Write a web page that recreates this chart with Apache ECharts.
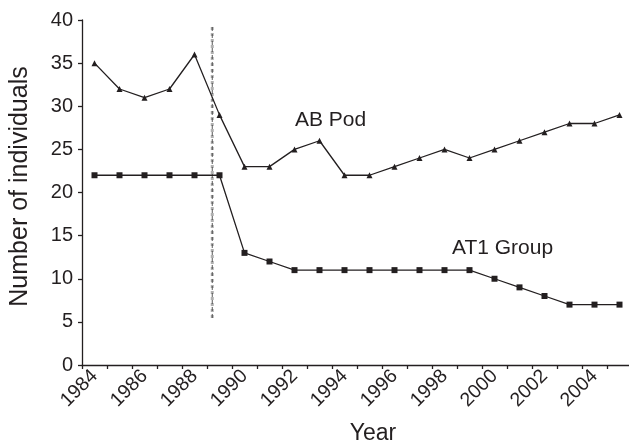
<!DOCTYPE html>
<html>
<head>
<meta charset="utf-8">
<script src="https://cdn.jsdelivr.net/npm/echarts@6/dist/echarts.min.js"></script>
<style>html,body{margin:0;padding:0;background:#fff;}#c{width:629px;height:441px;}</style>
</head>
<body>
<div id="c"></div>
<script>
var years = ['1984','1985','1986','1987','1988','1989','1990','1991','1992','1993','1994','1995','1996','1997','1998','1999','2000','2001','2002','2003','2004','2005'];
var abPod = [35,32,31,32,36,29,23,23,25,26,22,22,23,24,25,24,25,26,27,28,28,29];
var at1Group = [22,22,22,22,22,22,13,12,11,11,11,11,11,11,11,11,10,9,8,7,7,7];
var yTicks = [0,5,10,15,20,25,30,35,40];
// vertical divider (in category-width units from axis start, and value range)
var dividerX = 5.21;
var dividerY = [5.45, 39.4];

var FONT = 'Liberation Sans';
var chart = echarts.init(document.getElementById('c'), null, {renderer:'canvas'});
chart.setOption({
  animation: false,
  backgroundColor: '#fff',
  textStyle: {fontFamily: FONT, color: '#231f20'},
  grid: {left: 82, top: 20, bottom: 76, right: -3, containLabel: false, outerBoundsMode: 'none'},
  xAxis: [{
    type: 'category',
    data: years,
    boundaryGap: true,
    name: 'Year',
    nameLocation: 'middle',
    nameGap: 57,
    nameTextStyle: {fontSize: 23, color: '#231f20', fontFamily: FONT, padding: [0,0,0,32]},
    axisLine: {lineStyle: {color: '#231f20', width: 1.3}},
    axisTick: {show: true, interval: 0, length: 4, lineStyle: {color: '#231f20', width: 1.3}},
    axisLabel: {interval: 1, rotate: 45, fontSize: 19.5, color: '#231f20', fontFamily: FONT, margin: 8},
    splitLine: {show: false}
  }, {
    type: 'value',
    min: 0, max: years.length,
    show: false
  }],
  yAxis: {
    type: 'value',
    min: yTicks[0], max: yTicks[yTicks.length-1], interval: 5,
    name: 'Number of individuals',
    nameLocation: 'middle',
    nameGap: 49,
    nameTextStyle: {fontSize: 25, color: '#231f20', fontFamily: FONT, padding: [0,0,0,12]},
    axisLine: {show: true, lineStyle: {color: '#231f20', width: 1.3}},
    axisTick: {show: true, length: 4, lineStyle: {color: '#231f20', width: 1.3}},
    axisLabel: {fontSize: 20, color: '#231f20', fontFamily: FONT, margin: 9},
    splitLine: {show: false}
  },
  series: [{
    name: 'divider-gray',
    type: 'line',
    xAxisIndex: 1,
    data: [[dividerX, dividerY[0]], [dividerX, dividerY[1]]],
    symbol: 'none',
    lineStyle: {color: '#b0b0b0', width: 3, type: 'dotted'},
    z: 1
  }, {
    name: 'divider-dark',
    type: 'line',
    xAxisIndex: 1,
    data: [[dividerX, dividerY[0]], [dividerX, dividerY[1]]],
    symbol: 'none',
    lineStyle: {color: '#444', width: 0.9, type: [4, 3]},
    z: 2
  }, {
    name: 'AB Pod',
    type: 'line',
    data: abPod,
    symbol: 'triangle',
    symbolSize: 6,
    itemStyle: {color: '#231f20'},
    lineStyle: {color: '#231f20', width: 1.3},
    z: 3
  }, {
    name: 'AT1 Group',
    type: 'line',
    data: at1Group,
    symbol: 'rect',
    symbolSize: 6,
    itemStyle: {color: '#231f20'},
    lineStyle: {color: '#231f20', width: 1.3},
    z: 3
  }],
  graphic: [{
    type: 'text',
    left: 295, top: 110,
    style: {text: 'AB Pod', font: '21px "Liberation Sans"', fill: '#231f20'}
  }, {
    type: 'text',
    left: 452, top: 238,
    style: {text: 'AT1 Group', font: '21px "Liberation Sans"', fill: '#231f20'}
  }]
});
</script>
</body>
</html>
